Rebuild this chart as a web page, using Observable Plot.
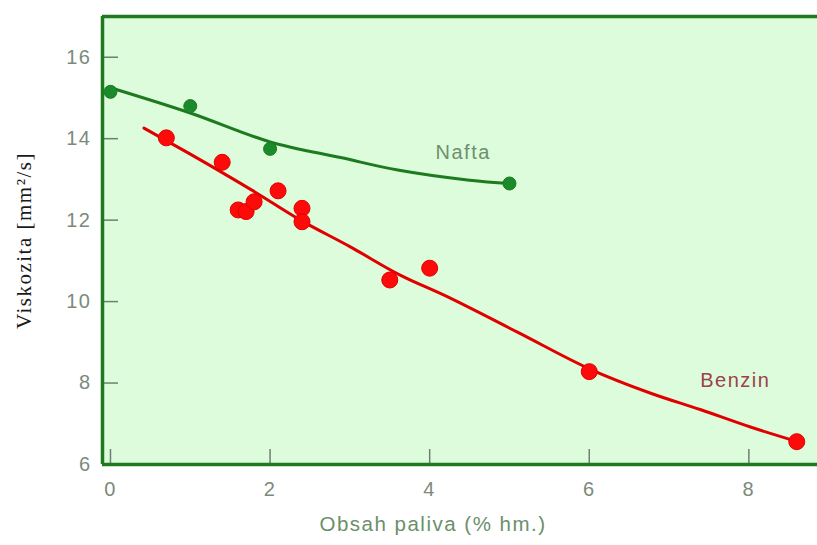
<!DOCTYPE html>
<html>
<head>
<meta charset="utf-8">
<script src="https://cdn.jsdelivr.net/npm/d3@7"></script>
<script src="https://cdn.jsdelivr.net/npm/@observablehq/plot@0.6"></script>
<style>
  html, body { margin: 0; padding: 0; background: #ffffff; }
  #chart { width: 817px; height: 545px; }
  #chart svg text { letter-spacing: 1.5px; }
</style>
</head>
<body>
<div id="chart"></div>
<script>
// Measured viscosity of diesel diluted with petrol (Benzin) and naphtha (Nafta)
const naftaX = [0, 1, 2, 5];
const naftaY = [15.15, 14.8, 13.75, 12.9];

const benzinX = [0.7, 1.4, 1.6, 1.7, 1.8, 2.1, 2.4, 2.4, 3.5, 4.0, 6.0, 8.6];
const benzinY = [14.02, 13.42, 12.25, 12.21, 12.45, 12.72, 12.29, 11.96, 10.53, 10.82, 8.28, 6.56];

// Trend curves drawn through each series
const naftaFitX = [0, 1, 2, 2.9, 3.6, 4.5, 5];
const naftaFitY = [15.25, 14.63, 13.92, 13.53, 13.23, 12.98, 12.9];

const benzinFitX = [0.42, 1.0, 1.39, 1.82, 2.38, 3.0, 3.63, 4.22, 5.1, 6.0, 6.77, 7.39, 8.02, 8.61];
const benzinFitY = [14.26, 13.62, 13.18, 12.68, 12.0, 11.35, 10.65, 10.12, 9.25, 8.35, 7.75, 7.35, 6.92, 6.56];

// Axis ticks, domains and texts
const xTicks = [0, 2, 4, 6, 8];
const yTicks = [6, 8, 10, 12, 14, 16];
const xDomain = [-0.1, 8.86];
const yDomain = [6, 17];
const xTitle = "Obsah paliva (% hm.)";
const yTitle = "Viskozita [mm\u00B2/s]";
const seriesLabels = [
  {name: "Nafta", x: 4.42, y: 13.67, color: "#6e8f6e"},
  {name: "Benzin", x: 7.83, y: 8.05, color: "#a0404a"}
];

const zip = (xs, ys) => xs.map((x, i) => ({x, y: ys[i]}));
const nafta = zip(naftaX, naftaY);
const benzin = zip(benzinX, benzinY);
const naftaFit = zip(naftaFitX, naftaFitY);
const benzinFit = zip(benzinFitX, benzinFitY);

const W = 817, H = 545;
const mL = 102, mR = 0, mT = 16, mB = 81;
const plotW = W - mL - mR, plotH = H - mT - mB;

const frameColor = "#1d7a1f";
const tickColor = "#6f7f6f";
const labelColor = "#7b8a7b";

const chart = Plot.plot({
  width: W,
  height: H,
  marginLeft: mL,
  marginRight: mR,
  marginTop: mT,
  marginBottom: mB,
  style: {fontFamily: "'Liberation Sans', Arial, sans-serif", background: "#ffffff", color: labelColor},
  x: {domain: xDomain, ticks: xTicks},
  y: {domain: yDomain, ticks: yTicks},
  marks: [
    Plot.frame({fill: "#dcfcdc", stroke: null}),
    // inward tick marks
    Plot.tickY(yTicks.slice(1), {y: d => d, stroke: tickColor, strokeWidth: 1.5, insetLeft: 2, insetRight: plotW - 16}),
    Plot.tickX(xTicks, {x: d => d, stroke: tickColor, strokeWidth: 1.5, insetTop: plotH - 15, insetBottom: 1}),
    Plot.axisY({ticks: yTicks, tickSize: 0, tickPadding: 11, fontSize: 20, label: null, fill: labelColor}),
    Plot.axisX({ticks: xTicks, tickSize: 0, tickPadding: 17, fontSize: 20, label: null, fill: labelColor}),
    // trend curves
    Plot.line(naftaFit, {x: "x", y: "y", stroke: "#1e7a1e", strokeWidth: 3, curve: "catmull-rom"}),
    Plot.line(benzinFit, {x: "x", y: "y", stroke: "#e00000", strokeWidth: 3, curve: "catmull-rom"}),
    // measurements
    Plot.dot(nafta, {x: "x", y: "y", r: 6.5, fill: "#1a8a2a", stroke: "#1a7a22", strokeWidth: 1}),
    Plot.dot(benzin, {x: "x", y: "y", r: 8, fill: "#ff0a0a", stroke: "#e00000", strokeWidth: 1}),
    // series names
    Plot.text(seriesLabels, {x: "x", y: "y", text: "name", fill: "color", fontSize: 20}),
    // frame: left, top and bottom edges
    Plot.ruleX([xDomain[0]], {stroke: frameColor, strokeWidth: 3.5}),
    Plot.ruleY(yDomain, {stroke: frameColor, strokeWidth: 3.5}),
    // axis titles
    Plot.text([xTitle], {frameAnchor: "bottom", dy: 66, dx: -27, fontSize: 20.5, fill: "#6b8f6b"}),
    Plot.text([yTitle], {frameAnchor: "left", textAnchor: "middle", rotate: -90, dx: -78, fontSize: 21, fill: "#1a1a1a",
      fontFamily: "'Liberation Serif', 'Times New Roman', serif"})
  ]
});

document.getElementById("chart").appendChild(chart);
</script>
</body>
</html>
